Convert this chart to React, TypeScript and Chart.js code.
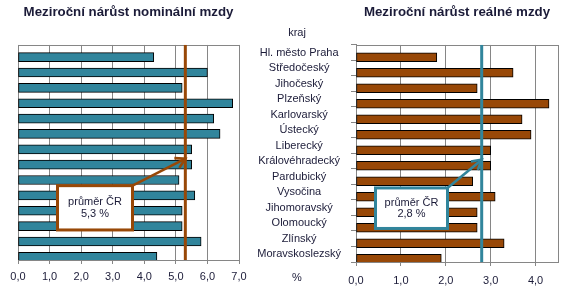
import React, { useEffect, useRef } from "react";
import { Chart, registerables } from "chart.js";

Chart.register(...registerables);

// ---------- data ----------
const categories = [
  "Hl. město Praha",
  "Středočeský",
  "Jihočeský",
  "Plzeňský",
  "Karlovarský",
  "Ústecký",
  "Liberecký",
  "Královéhradecký",
  "Pardubický",
  "Vysočina",
  "Jihomoravský",
  "Olomoucký",
  "Zlínský",
  "Moravskoslezský",
];
const nominalGrowth = [4.3, 6.0, 5.2, 6.8, 6.2, 6.4, 5.5, 5.5, 5.1, 5.6, 5.2, 5.2, 5.8, 4.4];
const realGrowth = [1.8, 3.5, 2.7, 4.3, 3.7, 3.9, 3.0, 3.0, 2.6, 3.1, 2.7, 2.7, 3.3, 1.9];
const nominalAverage = 5.3;
const realAverage = 2.8;
const nominalAxisMax = 7;
const realAxisMax = 4.5;
const titles = ["Meziroční nárůst nominální mzdy", "Meziroční nárůst reálné mzdy"];
const calloutLabel = "průměr ČR";
const categoryHeader = "kraj";
const unitLabel = "%";

// ---------- style ----------
const FONT = "'Liberation Sans', Arial, Helvetica, sans-serif";
const TEXT = "#1b1b38";
const GRID = "#868686";
const TEAL = "#31859C";
const BROWN = "#984807";

Chart.defaults.font.family = FONT;

const fmt = (v: number) => v.toFixed(1).replace(".", ",");

const framePlugin = {
  id: "frame",
  beforeDatasetsDraw(chart: any) {
    const { ctx, chartArea: a } = chart;
    ctx.save();
    ctx.strokeStyle = GRID;
    ctx.lineWidth = 1;
    const l = Math.round(a.left) + 0.5;
    const t = Math.round(a.top) + 0.5;
    const r = Math.round(a.right) + 0.5;
    const b = Math.round(a.bottom) + 0.5;
    ctx.strokeRect(l, t, r - l, b - t);
    ctx.restore();
  },
};

const calloutPlugin = {
  id: "callout",
  afterDatasetsDraw(chart: any, _args: any, opts: any) {
    const { ctx, chartArea: a } = chart;
    const xs = chart.scales.x;
    const ys = chart.scales.y;
    const tipX = xs.getPixelForValue(opts.value);
    const tipY = ys.getPixelForValue(opts.tipRow) - 1.5;
    const bx = a.left + opts.box.x;
    const by = a.top + opts.box.y;
    const bw = opts.box.w;
    const bh = opts.box.h;
    const sx = bx + bw;
    const sy = by;
    ctx.save();
    ctx.strokeStyle = opts.color;
    ctx.lineWidth = 2.6;
    ctx.lineCap = "butt";
    ctx.beginPath();
    ctx.moveTo(sx, sy);
    ctx.lineTo(tipX, tipY);
    ctx.stroke();
    // open arrow head
    const dx = sx - tipX;
    const dy = sy - tipY;
    const len = Math.hypot(dx, dy);
    const ux = dx / len;
    const uy = dy / len;
    const hl = 11;
    const ang = Math.PI / 6;
    const rot = (x: number, y: number, t: number) => [x * Math.cos(t) - y * Math.sin(t), x * Math.sin(t) + y * Math.cos(t)];
    const [ax, ay] = rot(ux, uy, ang);
    const [cx, cy] = rot(ux, uy, -ang);
    ctx.beginPath();
    ctx.moveTo(tipX + ax * hl, tipY + ay * hl);
    ctx.lineTo(tipX, tipY);
    ctx.lineTo(tipX + cx * hl, tipY + cy * hl);
    ctx.stroke();
    // box
    ctx.fillStyle = "#ffffff";
    ctx.fillRect(bx, by, bw, bh);
    ctx.lineWidth = 3;
    ctx.strokeRect(bx, by, bw, bh);
    // text
    ctx.fillStyle = TEXT;
    ctx.font = `11px ${FONT}`;
    ctx.textAlign = "center";
    ctx.textBaseline = "middle";
    const cxm = bx + bw / 2;
    const cym = by + bh / 2;
    ctx.fillText(opts.lines[0], cxm, cym - 5.5);
    ctx.fillText(opts.lines[1], cxm, cym + 6);
    ctx.restore();
  },
};

type Params = {
  values: number[];
  avg: number;
  max: number;
  title: string;
  barColor: string;
  avgColor: string;
  showLabels: boolean;
  padLeft: number;
  padRight: number;
  yWidth: number;
  xHeight: number;
  tickPad: number;
  box: { x: number; y: number; w: number; h: number };
};

function buildConfig(p: Params): any {
  return {
    type: "bar",
    data: {
      labels: categories,
      datasets: [
        {
          type: "line",
          data: [
            { x: p.avg, y: 0 },
            { x: p.avg, y: 1 },
          ],
          yAxisID: "yAvg",
          borderColor: p.avgColor,
          borderWidth: 3,
          pointRadius: 0,
          fill: false,
          clip: false,
          order: 0,
        },
        {
          type: "bar",
          data: p.values,
          backgroundColor: p.barColor,
          borderColor: "#000000",
          borderWidth: 1,
          borderSkipped: false,
          barThickness: 9,
          order: 1,
        },
      ],
    },
    options: {
      indexAxis: "y",
      animation: false,
      responsive: false,
      devicePixelRatio: 1,
      layout: { padding: { left: p.padLeft, right: p.padRight, top: 0, bottom: 0 } },
      plugins: {
        legend: { display: false },
        tooltip: { enabled: false },
        title: {
          display: true,
          text: p.title,
          color: TEXT,
          fullSize: p.showLabels ? false : true,
          font: { family: FONT, size: 13.3, weight: "bold", lineHeight: 1.2 },
          padding: { top: 4, bottom: 25 },
        },
        callout: {
          value: p.avg,
          color: p.avgColor,
          tipRow: 7,
          box: p.box,
          lines: [calloutLabel, fmt(p.avg) + " %"],
        },
      },
      scales: {
        x: {
          type: "linear",
          min: 0,
          max: p.max,
          afterFit: (s: any) => {
            s.height = p.xHeight;
          },
          ticks: {
            stepSize: 1,
            includeBounds: false,
            color: TEXT,
            font: { size: 11 },
            padding: p.tickPad,
            callback: (v: any) => fmt(Number(v)),
          },
          grid: { color: GRID, lineWidth: 1, tickLength: 4, drawTicks: true },
          border: { display: true, color: GRID },
        },
        y: {
          type: "category",
          display: p.showLabels,
          afterFit: (s: any) => {
            if (p.showLabels) s.width = p.yWidth;
          },
          ticks: {
            color: TEXT,
            font: { size: 11 },
            crossAlign: "center",
            padding: 10,
            autoSkip: false,
          },
          grid: { drawOnChartArea: false, drawTicks: true, tickLength: 5, color: GRID },
          border: { display: true, color: GRID },
        },
        yAvg: {
          type: "linear",
          axis: "y",
          display: false,
          offset: false,
          grace: 0,
          min: 0,
          max: 1,
          grid: { offset: false },
        },
      },
    },
    plugins: [framePlugin, calloutPlugin],
  };
}

export default function App() {
  const leftRef = useRef<HTMLCanvasElement>(null);
  const rightRef = useRef<HTMLCanvasElement>(null);

  useEffect(() => {
    const left = new Chart(
      leftRef.current as HTMLCanvasElement,
      buildConfig({
        values: nominalGrowth,
        avg: nominalAverage,
        max: nominalAxisMax,
        title: titles[0],
        barColor: TEAL,
        avgColor: BROWN,
        showLabels: false,
        padLeft: 18,
        padRight: 28,
        yWidth: 0,
        xHeight: 41,
        tickPad: 6,
        box: { x: 39.5, y: 140.7, w: 75, h: 44.3 },
      })
    );
    const right = new Chart(
      rightRef.current as HTMLCanvasElement,
      buildConfig({
        values: realGrowth,
        avg: realAverage,
        max: realAxisMax,
        title: titles[1],
        barColor: BROWN,
        avgColor: TEAL,
        showLabels: true,
        padLeft: 0,
        padRight: 19,
        yWidth: 106,
        xHeight: 39,
        tickPad: 8,
        box: { x: 19.5, y: 143, w: 72, h: 40.5 },
      })
    );
    return () => {
      left.destroy();
      right.destroy();
    };
  }, []);

  const textStyle: React.CSSProperties = {
    position: "absolute",
    left: 257,
    width: 80,
    textAlign: "center",
    fontSize: 11,
    lineHeight: "15px",
    color: TEXT,
    fontFamily: FONT,
  };

  return (
    <div
      style={{
        position: "absolute",
        left: 0,
        top: 0,
        width: 577,
        height: 301,
        background: "#ffffff",
        overflow: "hidden",
      }}
    >
      <canvas ref={leftRef} width={267} height={301} style={{ position: "absolute", left: 0, top: 0 }} />
      <canvas ref={rightRef} width={327} height={301} style={{ position: "absolute", left: 250, top: 0 }} />
      <div style={{ ...textStyle, top: 25 }}>{categoryHeader}</div>
      <div style={{ ...textStyle, top: 269.5 }}>{unitLabel}</div>
    </div>
  );
}
